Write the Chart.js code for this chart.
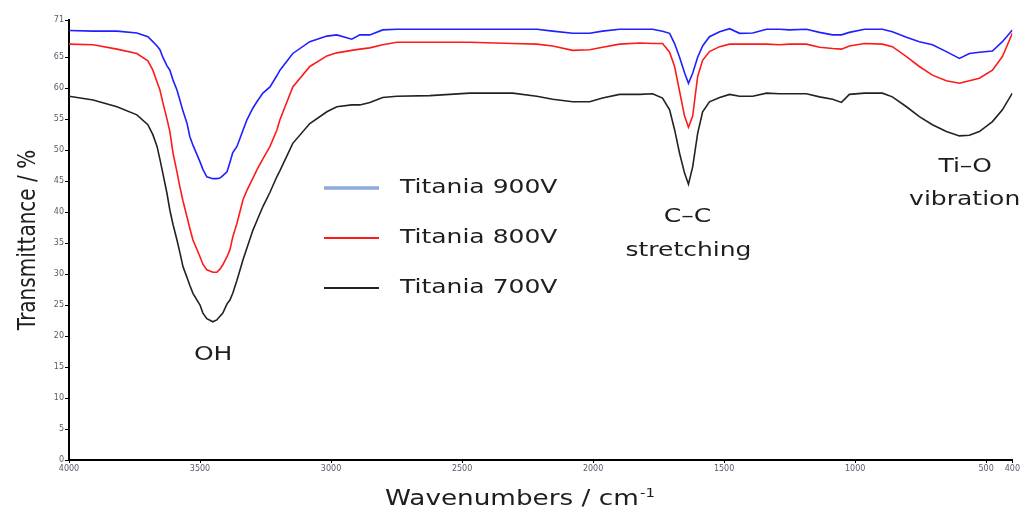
<!DOCTYPE html>
<html>
<head>
<meta charset="utf-8">
<script src="https://cdn.jsdelivr.net/npm/chart.js@4/dist/chart.umd.min.js"></script>
<style>
  html, body { margin: 0; padding: 0; background: #fff; }
  #wrap { width: 1021px; height: 517px; position: relative; }
</style>
</head>
<body>
<div id="wrap"><canvas id="c" width="1021" height="517"></canvas></div>
<script>
// ---- data ----
const wavenumbers = [4000,3908,3817,3741,3699,3680,3664,3653,3642,3626,3615,3603,3588,3577,3565,3550,3539,3527,3500,3489,3474,3451,3436,3424,3413,3397,3386,3375,3359,3336,3321,3298,3283,3260,3233,3207,3195,3146,3081,3016,2978,2921,2890,2852,2803,2749,2623,2471,2307,2215,2154,2078,2013,1964,1899,1822,1773,1735,1708,1689,1670,1651,1636,1620,1601,1582,1556,1517,1479,1441,1391,1338,1289,1250,1186,1136,1086,1052,1022,964,896,858,804,755,705,652,602,564,526,476,438,400];

const titania900V = [69.3,69.2,69.2,68.9,68.3,67.5,66.8,66.2,65.0,63.6,62.9,61.3,59.7,58.1,56.3,54.4,52.2,50.8,48.1,46.9,45.7,45.4,45.4,45.5,45.9,46.5,48.0,49.6,50.6,53.2,54.9,56.8,57.8,59.2,60.2,62.0,62.9,65.6,67.5,68.4,68.6,67.9,68.6,68.6,69.4,69.5,69.5,69.5,69.5,69.5,69.2,68.85,68.85,69.2,69.5,69.5,69.5,69.2,68.85,67.2,65.0,62.5,60.8,62.4,65.0,66.8,68.3,69.1,69.6,68.85,68.9,69.5,69.5,69.4,69.5,69.0,68.6,68.6,69.0,69.5,69.5,69.1,68.2,67.5,67.0,65.9,64.8,65.6,65.8,66.0,67.5,69.4];

const titania800V = [67.1,67.0,66.3,65.6,64.4,62.9,61.0,59.7,57.7,55.0,53.0,49.5,46.5,44.1,41.8,39.3,37.4,35.5,32.8,31.6,30.7,30.3,30.3,30.8,31.5,32.8,33.9,36.0,38.2,42.0,43.5,45.5,46.8,48.6,50.6,53.2,54.9,60.2,63.5,65.2,65.7,66.1,66.3,66.5,67.0,67.4,67.4,67.4,67.2,67.1,66.8,66.1,66.2,66.6,67.1,67.3,67.2,67.2,65.8,63.5,59.5,55.5,53.7,55.5,61.9,64.5,65.9,66.7,67.1,67.1,67.1,67.1,67.0,67.1,67.1,66.6,66.4,66.3,66.8,67.2,67.1,66.7,65.1,63.5,62.1,61.2,60.8,61.2,61.6,62.9,65.1,68.85];

const titania700V = [58.7,58.1,57.0,55.7,54.1,52.5,50.6,48.5,46.3,43.0,40.3,38.0,35.5,33.5,31.2,29.5,28.2,26.9,25.0,23.7,22.8,22.3,22.6,23.2,23.7,25.2,25.8,26.9,29.0,32.3,34.2,37.1,38.6,40.9,43.2,45.7,46.7,51.1,54.3,56.2,57.0,57.3,57.3,57.7,58.5,58.7,58.8,59.2,59.2,58.7,58.2,57.8,57.8,58.4,59.0,59.0,59.1,58.4,56.5,53.3,49.5,46.3,44.5,47.3,52.7,56.2,57.8,58.5,59.0,58.7,58.7,59.2,59.1,59.1,59.1,58.6,58.2,57.7,59.0,59.2,59.2,58.6,57.0,55.4,54.1,53.0,52.3,52.4,53.0,54.6,56.5,59.2];

const seriesLabels = ["Titania 900V", "Titania 800V", "Titania 700V"];
const xTickValues = [4000,3500,3000,2500,2000,1500,1000,500,400];
const yTickValues = [0,5,10,15,20,25,30,35,40,45,50,55,60,65,71];
const annotations = [
  { text: "OH", wn: 3450, val: 17 },
  { text: "C\u2013C", wn: 1640, val: 39.2 },
  { text: "stretching", wn: 1636, val: 33.7 },
  { text: "Ti\u2013O", wn: 580, val: 47.3 },
  { text: "vibration", wn: 582, val: 42 }
];
const xTitle = "Wavenumbers / cm";
const xTitleSup = "-1";
const yTitle = "Transmittance / %";

// ---- helpers ----
const STRETCH = 1.25;
const FONT = '"DejaVu Sans", Verdana, sans-serif';
function stretchedText(ctx, text, x, y, sx, align) {
  ctx.save();
  ctx.translate(x, y);
  ctx.scale(sx, 1);
  ctx.textAlign = align || 'center';
  ctx.fillText(text, 0, 0);
  ctx.restore();
}

const toPoints = arr => wavenumbers.map((w, i) => ({ x: w, y: arr[i] }));

const overlayPlugin = {
  id: 'overlay',
  afterDraw(chart) {
    const ctx = chart.ctx;
    const xs = chart.scales.x, ys = chart.scales.y;
    ctx.save();
    ctx.fillStyle = '#1e1e1e';
    ctx.textBaseline = 'middle';
    // annotations
    ctx.font = '20px ' + FONT;
    annotations.forEach(a => {
      stretchedText(ctx, a.text, xs.getPixelForValue(a.wn), ys.getPixelForValue(a.val), STRETCH, 'center');
    });
    // legend
    const legendY = [188, 238, 288];
    chart.data.datasets.forEach((ds, i) => {
      const y = legendY[i];
      ctx.strokeStyle = ds.legendColor || ds.borderColor;
      ctx.lineWidth = ds.legendWidth || 2;
      ctx.beginPath();
      ctx.moveTo(324, y);
      ctx.lineTo(379, y);
      ctx.stroke();
      ctx.fillStyle = '#1e1e1e';
      ctx.font = '20px ' + FONT;
      stretchedText(ctx, ds.label, 400, y, STRETCH, 'left');
    });
    // x title with superscript
    ctx.font = '21px ' + FONT;
    const mainW = ctx.measureText(xTitle).width;
    ctx.font = '12px ' + FONT;
    const supW = ctx.measureText(xTitleSup).width;
    const totalW = (mainW + supW + 1) * STRETCH;
    const cx = 520;
    const startX = cx - totalW / 2;
    ctx.font = '21px ' + FONT;
    stretchedText(ctx, xTitle, startX, 500, STRETCH, 'left');
    ctx.font = '12px ' + FONT;
    stretchedText(ctx, xTitleSup, startX + (mainW + 1) * STRETCH, 494, STRETCH, 'left');
    // y title rotated
    ctx.font = '20px ' + FONT;
    ctx.save();
    ctx.translate(28, (chart.chartArea.top + chart.chartArea.bottom) / 2);
    ctx.rotate(-Math.PI / 2);
    ctx.scale(1, STRETCH);
    ctx.textAlign = 'center';
    ctx.fillText(yTitle, 0, 0);
    ctx.restore();
    ctx.restore();
  }
};

new Chart(document.getElementById('c'), {
  type: 'line',
  data: {
    datasets: [
      { label: seriesLabels[0], data: toPoints(titania900V), borderColor: '#1f1fff', legendColor: '#8eaadb', legendWidth: 3.5, borderWidth: 1.6 },
      { label: seriesLabels[1], data: toPoints(titania800V), borderColor: '#ff1a1a', legendColor: '#ff1a1a', legendWidth: 2, borderWidth: 1.6 },
      { label: seriesLabels[2], data: toPoints(titania700V), borderColor: '#222222', legendColor: '#222222', legendWidth: 2, borderWidth: 1.6 }
    ]
  },
  options: {
    responsive: false,
    animation: false,
    devicePixelRatio: 1,
    layout: { padding: { top: 20, right: 8, left: 0, bottom: 0 } },
    elements: { point: { radius: 0 }, line: { tension: 0 } },
    plugins: { legend: { display: false }, tooltip: { enabled: false } },
    scales: {
      x: {
        type: 'linear',
        reverse: true,
        min: 400,
        max: 4000,
        afterBuildTicks: s => { s.ticks = xTickValues.map(v => ({ value: v })); },
        afterFit: s => { s.height = 57; },
        ticks: { font: { size: 8, family: FONT }, color: '#5a5a6a', padding: 1, maxRotation: 0, autoSkip: false, callback: v => String(v) },
        grid: { display: true, drawOnChartArea: false, drawTicks: true, tickLength: 3, color: '#000' },
        border: { display: true, color: '#000', width: 2 }
      },
      y: {
        type: 'linear',
        min: 0,
        max: 71,
        afterBuildTicks: s => { s.ticks = yTickValues.map(v => ({ value: v })); },
        afterFit: s => { s.width = 69; },
        ticks: { font: { size: 8, family: FONT }, color: '#5a5a6a', padding: 1, autoSkip: false, callback: v => String(v) },
        grid: { display: true, drawOnChartArea: false, drawTicks: true, tickLength: 4, color: '#000' },
        border: { display: true, color: '#000', width: 2 }
      }
    }
  },
  plugins: [overlayPlugin]
});
</script>
</body>
</html>
